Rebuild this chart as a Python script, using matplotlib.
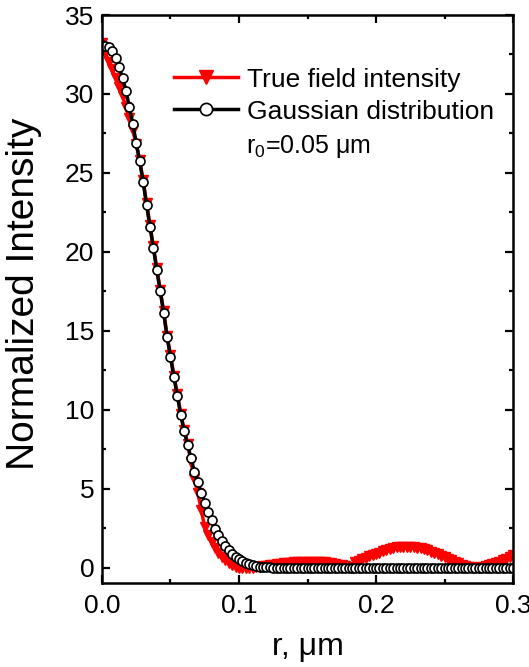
import numpy as np
import matplotlib
matplotlib.use("Agg")
import matplotlib.pyplot as plt
from matplotlib.ticker import MultipleLocator

plt.rcParams['font.family'] = ['Liberation Sans', 'DejaVu Sans']
plt.rcParams['mathtext.fontset'] = 'custom'
plt.rcParams['mathtext.rm'] = 'Liberation Sans'
plt.rcParams['mathtext.it'] = 'Liberation Sans:italic'

# radial position (um)
r = [0.0, 0.0025, 0.005, 0.0075, 0.01, 0.0125, 0.015, 0.0175, 0.02, 0.0225,
     0.025, 0.0275, 0.03, 0.0325, 0.035, 0.0375, 0.04, 0.0425, 0.045, 0.0475,
     0.05, 0.0525, 0.055, 0.0575, 0.06, 0.0625, 0.065, 0.0675, 0.07, 0.0725,
     0.075, 0.0775, 0.08, 0.0825, 0.085, 0.0875, 0.09, 0.0925, 0.095, 0.0975,
     0.1, 0.1025, 0.105, 0.1075, 0.11, 0.1125, 0.115, 0.1175, 0.12, 0.1225,
     0.125, 0.1275, 0.13, 0.1325, 0.135, 0.1375, 0.14, 0.1425, 0.145, 0.1475,
     0.15, 0.1525, 0.155, 0.1575, 0.16, 0.1625, 0.165, 0.1675, 0.17, 0.1725,
     0.175, 0.1775, 0.18, 0.1825, 0.185, 0.1875, 0.19, 0.1925, 0.195, 0.1975,
     0.2, 0.2025, 0.205, 0.2075, 0.21, 0.2125, 0.215, 0.2175, 0.22, 0.2225,
     0.225, 0.2275, 0.23, 0.2325, 0.235, 0.2375, 0.24, 0.2425, 0.245, 0.2475,
     0.25, 0.2525, 0.255, 0.2575, 0.26, 0.2625, 0.265, 0.2675, 0.27, 0.2725,
     0.275, 0.2775, 0.28, 0.2825, 0.285, 0.2875, 0.29, 0.2925, 0.295, 0.2975,
     0.3]

true_field = [33.25, 32.6, 32.05, 31.55, 31.0, 30.45, 29.85, 29.2, 28.5, 27.7,
              26.8, 25.8, 24.55, 23.1, 21.7, 20.35, 18.95, 17.6, 16.25, 14.7,
              13.45, 12.15, 11.0, 9.75, 8.75, 7.85, 6.7, 5.6, 4.7, 3.65,
              2.55, 2.05, 1.6, 1.25, 0.95, 0.7, 0.5, 0.32, 0.17, 0.07,
              0.01, -0.02, -0.03, -0.02, 0.0, 0.03, 0.06, 0.09, 0.12, 0.15,
              0.18, 0.21, 0.24, 0.27, 0.29, 0.31, 0.33, 0.35, 0.36, 0.37,
              0.38, 0.38, 0.38, 0.37, 0.36, 0.34, 0.31, 0.28, 0.24, 0.2,
              0.15, 0.1, 0.05, -0.02, 0.35, 0.45, 0.55, 0.64, 0.72, 0.8,
              0.88, 0.96, 1.04, 1.12, 1.19, 1.24, 1.28, 1.31, 1.33, 1.34,
              1.33, 1.31, 1.27, 1.22, 1.16, 1.09, 1.02, 0.93, 0.84, 0.74,
              0.65, 0.55, 0.46, 0.37, 0.28, 0.2, 0.13, 0.07, 0.03, 0.0,
              0.0, 0.03, 0.08, 0.14, 0.21, 0.29, 0.38, 0.48, 0.58, 0.69,
              0.8]

gaussian = [33.1, 33.05, 32.95, 32.7, 32.3, 31.7, 31.0, 30.2, 29.15, 28.1,
            26.9, 25.75, 24.45, 23.0, 21.6, 20.25, 18.85, 17.5, 16.15, 14.6,
            13.35, 12.05, 10.9, 9.65, 8.65, 7.8, 6.93, 6.05, 5.4, 4.72,
            4.08, 3.52, 3.0, 2.48, 2.07, 1.7, 1.38, 1.1, 0.87, 0.68,
            0.52, 0.4, 0.29, 0.21, 0.15, 0.1, 0.07, 0.05, 0.03, 0.02,
            0.01, 0.01, 0.0, 0.0, 0.0, 0.0, 0.0, 0.0, 0.0, 0.0,
            0.0, 0.0, 0.0, 0.0, 0.0, 0.0, 0.0, 0.0, 0.0, 0.0,
            0.0, 0.0, 0.0, 0.0, 0.0, 0.0, 0.0, 0.0, 0.0, 0.0,
            0.0, 0.0, 0.0, 0.0, 0.0, 0.0, 0.0, 0.0, 0.0, 0.0,
            0.0, 0.0, 0.0, 0.0, 0.0, 0.0, 0.0, 0.0, 0.0, 0.0,
            0.0, 0.0, 0.0, 0.0, 0.0, 0.0, 0.0, 0.0, 0.0, 0.0,
            0.0, 0.0, 0.0, 0.0, 0.0, 0.0, 0.0, 0.0, 0.0, 0.0,
            0.0]

fig = plt.figure(figsize=(5.29, 6.67), dpi=100)
ax = fig.add_axes([0.1928, 0.1259, 0.777, 0.8516])

ax.plot(r, true_field, color='red', lw=2.5, marker='v', ms=7.5,
        mfc='red', mec='red', label='True field intensity')
ax.plot(r, gaussian, color='black', lw=2.5, marker='o', ms=6.5,
        mfc='white', mec='black', mew=1.2, label='Gaussian distribution')

ax.set_xlim(0, 0.3)
ax.set_ylim(-0.97, 35)
ax.xaxis.set_major_locator(MultipleLocator(0.1))
ax.xaxis.set_minor_locator(MultipleLocator(0.05))
ax.yaxis.set_major_locator(MultipleLocator(5))
ax.yaxis.set_minor_locator(MultipleLocator(2.5))
ax.xaxis.set_major_formatter(plt.FormatStrFormatter('%.1f'))

for s in ax.spines.values():
    s.set_linewidth(1.8)
ax.tick_params(which='both', direction='in', top=True, right=True, width=1.6)
ax.tick_params(which='major', length=5.5, labelsize=19)
ax.tick_params(which='minor', length=3)
ax.tick_params(axis='x', pad=8)
ax.tick_params(axis='y', pad=5.5)

ax.set_xlabel(r'r, μm', fontsize=23, labelpad=10)
ax.set_ylabel('Normalized Intensity', fontsize=28)
ax.yaxis.set_label_coords(-0.145, 0.51)

leg = ax.legend(loc='center left', bbox_to_anchor=(0.15, 0.858), frameon=False,
                fontsize=19, handlelength=2.4, handletextpad=0.35,
                labelspacing=0.3, markerscale=1.35, borderaxespad=0)
ax.text(0.35, 0.769, r'r$_0$=0.05 μm', transform=ax.transAxes,
        fontsize=18, va='center', ha='left')

fig.savefig('out.png', dpi=100)
